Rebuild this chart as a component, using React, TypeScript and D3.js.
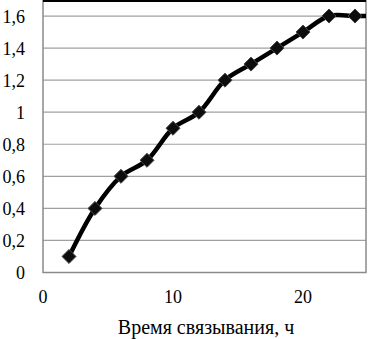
import React from 'react'
import * as d3 from 'd3'

// время связывания, ч
const hours = [2, 4, 6, 8, 10, 12, 14, 16, 18, 20, 22, 24, 26]
const values = [0.1, 0.4, 0.6, 0.7, 0.9, 1.0, 1.2, 1.3, 1.4, 1.5, 1.6, 1.6, 1.6]
const yTicks = [0, 0.2, 0.4, 0.6, 0.8, 1, 1.2, 1.4, 1.6]
const xTicks = [0, 10, 20]

const W = 369
const H = 339
const left = 43
const right = 366
const top = 0
const bottom = 272.5

const fmt = (v: number) => String(v).replace('.', ',')

export default function App() {
  const x = d3.scaleLinear().domain([0, 25]).range([left, left + 325])
  const y = d3.scaleLinear().domain([0, 1.7]).range([bottom, top])

  const pts = hours.map((h, i) => [x(h), y(values[i])] as [number, number])
  const line = d3.line().curve(d3.curveCatmullRom.alpha(0.5))(pts) || ''
  const diamond = d3.symbol().type(d3.symbolDiamond2).size(125)() || ''

  const txt: React.CSSProperties = { fontFamily: "'Liberation Serif', 'DejaVu Serif', serif", fontSize: 18 }

  return (
    <svg width={W} height={H} style={{ position: 'absolute', left: 0, top: 0 }}>
      <defs>
        <clipPath id="plot">
          <rect x={left} y={top} width={right - left} height={bottom - top} />
        </clipPath>
        <filter id="soft" x="-50%" y="-50%" width="200%" height="200%">
          <feGaussianBlur stdDeviation="0.6" />
        </filter>
      </defs>
      <rect width={W} height={H} fill="#fff" />
      {yTicks.map(t => (
        <line key={t} x1={left} x2={right} y1={y(t)} y2={y(t)} stroke="#a0a0a0" strokeWidth={1.2} />
      ))}
      <rect x={left} y={top + 0.5} width={right - left} height={bottom - top - 0.5} fill="none" stroke="#8a8a8a" strokeWidth={1.5} />
      <line x1={left} x2={right} y1={1} y2={1} stroke="#000" strokeWidth={2} />
      <g clipPath="url(#plot)">
        <path d={line} fill="none" stroke="#000" strokeWidth={4.5} strokeLinejoin="round" />
        {pts.map((p, i) => (
          <path key={i} d={diamond} transform={`translate(${p[0]},${p[1]})`} fill="#111" stroke="#444" strokeWidth={1} filter="url(#soft)" />
        ))}
      </g>
      {yTicks.map(t => (
        <text key={t} x={25} y={y(t) + 6.5} textAnchor="end" style={txt} fill="#000">
          {fmt(t)}
        </text>
      ))}
      {xTicks.map(t => (
        <text key={t} x={x(t)} y={303} textAnchor="middle" style={txt} fill="#000">
          {t}
        </text>
      ))}
      <text x={206} y={334} textAnchor="middle" style={{ ...txt, fontSize: 20 }} fill="#000">
        Время связывания, ч
      </text>
    </svg>
  )
}
